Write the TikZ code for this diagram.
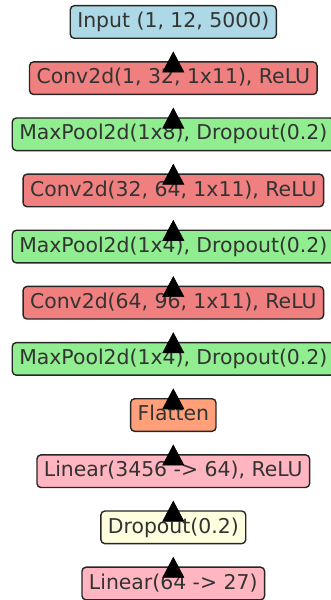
\documentclass[tikz,border=0pt]{standalone}
\usepackage{fontspec}
\setmainfont{DejaVu Sans}
\usetikzlibrary{arrows.meta}

\definecolor{inputblue}{HTML}{ADD8E6}
\definecolor{convred}{HTML}{F08080}
\definecolor{poolgreen}{HTML}{90EE90}
\definecolor{flatsalmon}{HTML}{FFA07A}
\definecolor{linpink}{HTML}{FFB6C1}
\definecolor{dropyellow}{HTML}{FFFFE0}

\tikzset{
  layer/.style={draw=black!85, line width=1.4pt, rounded corners=4pt, text=black!80,
    font=\fontsize{20.4pt}{24pt}\selectfont, inner xsep=7pt, inner ysep=6.5pt,
    text height=15.5pt, text depth=4.1pt},
  flow/.style={-{Triangle[length=21pt,width=22pt]}, line width=0.6pt, shorten >=12.4pt}
}

\begin{document}
\begin{tikzpicture}[x=1pt,y=1pt]
\useasboundingbox (0,0) rectangle (330,600);
% layers, top to bottom
\node[layer, fill=inputblue]  (inp)   at (173.3,578)    {Input (1, 12, 5000)};
\node[layer, fill=convred]    (conv1) at (173.3,521.85) {Conv2d(1, 32, 1x11), ReLU};
\node[layer, fill=poolgreen]  (pool1) at (173.3,465.7)  {MaxPool2d(1x8), Dropout(0.2)};
\node[layer, fill=convred]    (conv2) at (173.3,409.55) {Conv2d(32, 64, 1x11), ReLU};
\node[layer, fill=poolgreen]  (pool2) at (173.3,353.4)  {MaxPool2d(1x4), Dropout(0.2)};
\node[layer, fill=convred]    (conv3) at (173.3,297.25) {Conv2d(64, 96, 1x11), ReLU};
\node[layer, fill=poolgreen]  (pool3) at (173.3,241.1)  {MaxPool2d(1x4), Dropout(0.2)};
\node[layer, fill=flatsalmon] (flat)  at (173.3,184.95) {Flatten};
\node[layer, fill=linpink]    (fc1)   at (173.3,128.8)  {Linear(3456 -> 64), ReLU};
\node[layer, fill=dropyellow] (drop)  at (173.3,72.65)  {Dropout(0.2)};
\node[layer, fill=linpink]    (fc2)   at (173.3,16.5)   {Linear(64 -> 27)};
% arrows point upwards
\foreach \a/\b in {inp/conv1, conv1/pool1, pool1/conv2, conv2/pool2, pool2/conv3,
                   conv3/pool3, pool3/flat, flat/fc1, fc1/drop, drop/fc2}
  \draw[flow] (\b) -- (\a);
\end{tikzpicture}
\end{document}
